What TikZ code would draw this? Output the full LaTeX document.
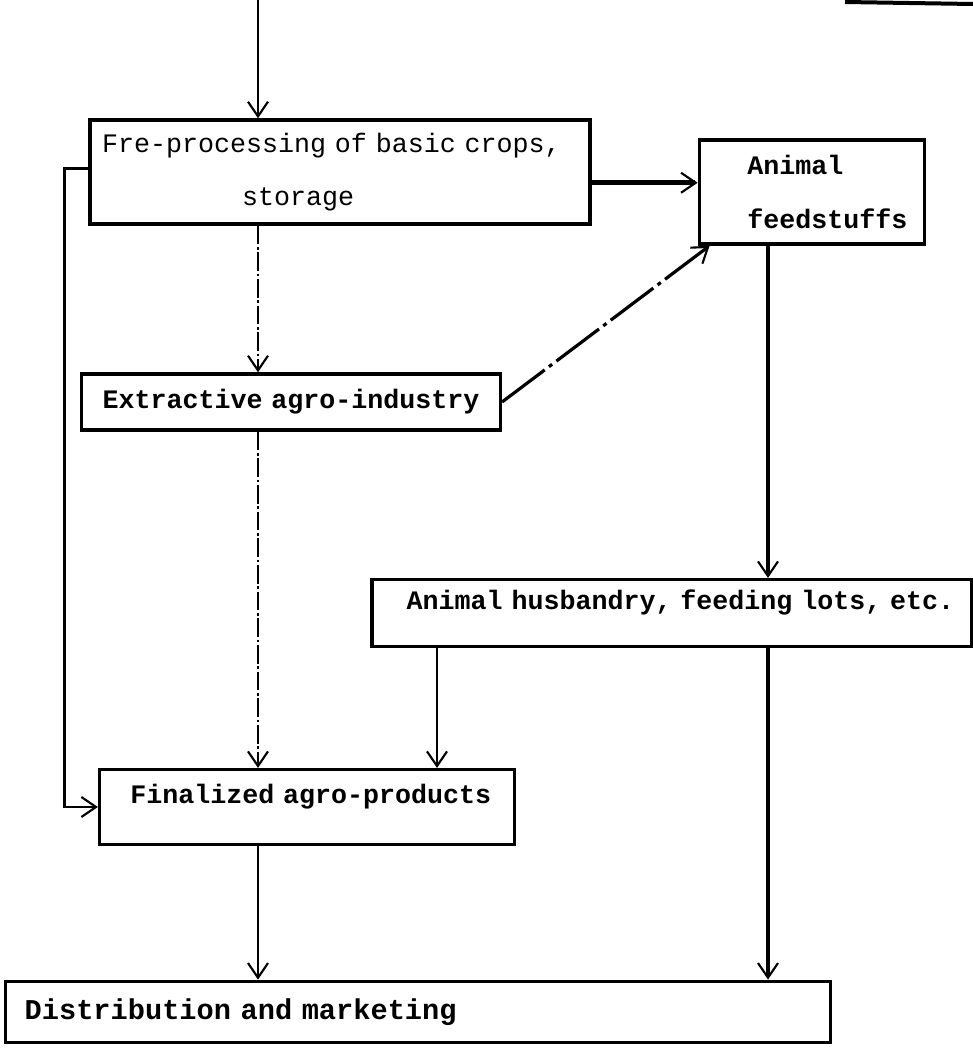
\documentclass[tikz,border=0pt]{standalone}
\usepackage{fontspec}
\newfontfamily\typew[WordSpace={1,0,0}]{Liberation Mono}
\usetikzlibrary{arrows.meta,calc,positioning}

\tikzset{
  box/.style={draw,line width=2.6pt,inner xsep=0pt,inner ysep=0pt,align=left,
    font=\typew\bfseries\fontsize{20pt}{40pt}\selectfont},
  flow/.style={line width=2pt,-{Straight Barb[length=11pt,width=15pt,line width=1.6pt]}},
  faint/.style={flow,line width=1.3pt,dash pattern=on 14pt off 2pt on 2pt off 2pt},
  broken/.style={flow,line width=2.4pt,dash pattern=on 40pt off 4pt on 3pt off 4pt}
}

\begin{document}
\begin{tikzpicture}[x=0.75pt,y=-0.75pt]
   \useasboundingbox (0,0) rectangle (973,1049);
   % boxes
   \node[box,minimum width=375pt,minimum height=78pt,text width=371pt,
         font=\typew\fontsize{20pt}{40pt}\selectfont] (pre) at (340,172)
     {\hspace*{7pt}Fre-processing of basic crops,\\\hspace*{112pt}storage};
   \node[box,minimum width=169pt,minimum height=78pt,text width=165pt] (feed) at (812,192)
     {\hspace*{34pt}Animal\\\hspace*{34pt}feedstuffs};
   \node[box,minimum width=314pt,minimum height=42pt,text width=300pt,align=center] (ext) at (291,402)
     {Extractive agro-industry};
   \node[box,minimum width=450pt,minimum height=50pt,text width=446pt,text depth=20pt] (hus) at (672,613)
     {\hspace*{24pt}Animal husbandry, feeding lots, etc.};
   \node[box,minimum width=311pt,minimum height=56pt,text width=305pt,text depth=20pt] (fin) at (307,807)
     {\hspace*{20pt}Finalized agro-products};
   \node[box,minimum width=619pt,minimum height=46pt,text width=610pt,
         font=\typew\bfseries\fontsize{21.5pt}{40pt}\selectfont] (dist) at (418,1012)
     {\hspace*{10pt}Distribution and marketing};
   % columns
   \coordinate (top) at (258,0);
   \coordinate (colr) at (768,0);
   \coordinate (colh) at (437,0);
   \coordinate (pe) at ($(pre.north east)!0.6!(pre.south east)$);
   \coordinate (pw) at ($(pre.north west)!0.47!(pre.south west)$);
   % connectors
   \draw[flow,line width=1.4pt] (top) -- (top |- pre.north);
   \draw[faint] (top |- pre.south) -- (top |- ext.north);
   \draw[faint] (top |- ext.south) -- (top |- fin.north);
   \draw[flow,line width=1.6pt] (top |- fin.south) -- (top |- dist.north);
   \draw[flow,line width=3.4pt] (pe) -- (pe -| feed.west);
   \draw[flow,line width=2.2pt] (pw) -- ++(-24,0) |- (fin.west);
   \draw[broken] (ext.east) -- ([xshift=9pt]feed.south west);
   \draw[flow,line width=2.6pt] (colr |- feed.south) -- (colr |- hus.north);
   \draw[flow,line width=1.8pt] (colh |- hus.south) -- (colh |- fin.north);
   \draw[flow,line width=3.2pt] (colr |- hus.south) -- (colr |- dist.north);
   % edge of a cut-off box, top right
   \draw[line width=3pt] (845,2) -- (973,4);
\end{tikzpicture}
\end{document}
